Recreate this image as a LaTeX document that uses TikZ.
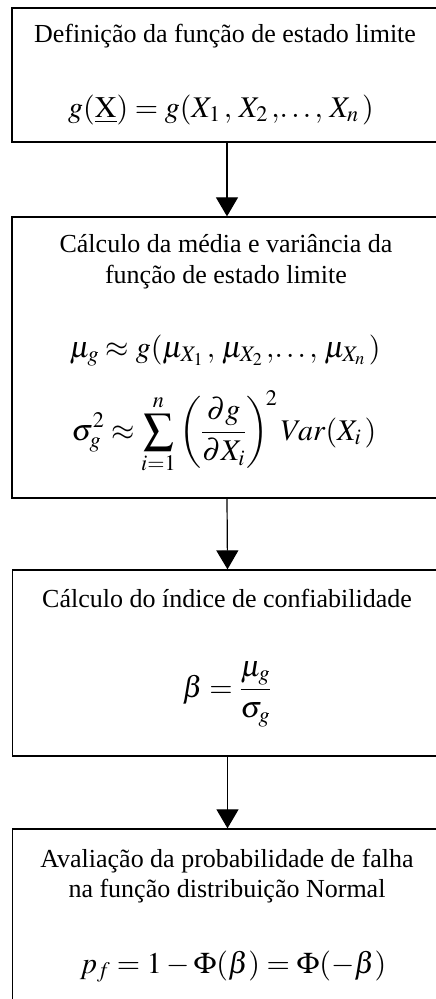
\documentclass[tikz,border=0pt]{standalone}
\usepackage{amsmath}
\usepackage{mathptmx}
\usepackage{fontspec}
\setmainfont{Liberation Serif}
\usepackage{tikz}
\usetikzlibrary{positioning,arrows.meta}

\tikzset{
  caixa/.style={draw, line width=1.3pt, inner sep=0pt, minimum width=430pt},
  texto/.style={anchor=base, inner sep=0pt},
  formula/.style={texto, font=\fontsize{30}{36}\selectfont},
  seta/.style={line width=1.2pt, -{Triangle[width=22pt,length=19pt]}}
}

\begin{document}
\begin{tikzpicture}[x=1pt, y=-1pt, font=\fontsize{26}{32}\selectfont]
  \useasboundingbox (0,0) rectangle (436,999);
  \clip (0,0) rectangle (436,999);
  % caixas
  \node[caixa, minimum height=134pt] (def) at (227,75) {};
  \node[caixa, minimum height=281pt] (media) at (227,357.5) {};
  \node[caixa, minimum height=186pt] (indice) at (227.5,663) {};
  \node[caixa, minimum height=181pt] (falha) at (227.5,919.5) {};
  % textos
  \node[texto] (t1) at (225,42) {Definição da função de estado limite};
  \node[formula] (f1) at (221,117)
    {$g(\underline{\mathrm{X}}) = g(X_1\,,\, X_2\,,\!\ldots,\, X_n\,)$};
  \node[texto] (t2a) at (226,252) {Cálculo da média e variância da};
  \node[texto] (t2b) at (226,283) {função de estado limite};
  \node[formula] (f2a) at (225,357)
    {$\mu_g \approx g(\mu_{X_1}\,,\, \mu_{X_2}\,,\!\ldots,\, \mu_{X_n}\,)$};
  \node[formula] (f2b) at (224,440)
    {$\displaystyle \sigma_g^2 \approx \sum_{i=1}^{n}
      \left(\frac{\partial g}{\partial X_i}\right)^{\!2} Var(X_i\,)$};
  \node[texto] (t3) at (227,607) {Cálculo do índice de confiabilidade};
  \node[formula] (f3) at (227,697) {$\beta = \dfrac{\mu_g}{\sigma_g}$};
  \node[texto] (t4a) at (227,867) {Avaliação da probabilidade de falha};
  \node[texto] (t4b) at (227,897) {na função distribuição Normal};
  \node[formula] (f4) at (233,973)
    {$p_f = 1 - \Phi(\beta) = \Phi(-\beta)$};
  % setas
  \draw[seta] (def.south) -- (media.north);
  \draw[seta] (media.south) -- (indice.north);
  \draw[seta] (indice.south) -- (falha.north);
\end{tikzpicture}
\end{document}
